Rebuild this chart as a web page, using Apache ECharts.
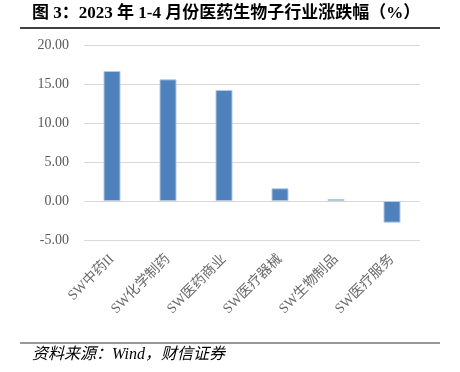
<!DOCTYPE html>
<html>
<head>
<meta charset="utf-8">
<script src="https://cdn.jsdelivr.net/npm/echarts@6/dist/echarts.min.js"></script>
<style>
html,body{margin:0;padding:0;background:#fff;}
#chart{width:460px;height:372px;}
</style>
</head>
<body>
<div id="chart"></div>
<script>
const categories = ['SW中药II', 'SW化学制药', 'SW医药商业', 'SW医疗器械', 'SW生物制品', 'SW医疗服务'];
const values = [16.67, 15.60, 14.23, 1.63, 0.26, -2.78];
const yTicks = { min: -5, max: 20, interval: 5 };
const titleText = '图 3：2023 年 1-4 月份医药生物子行业涨跌幅（%）';
const sourceText = '资料来源：Wind，财信证券';

const serif = '"Liberation Serif", "Times New Roman", "Noto Sans CJK SC", serif';
const chart = echarts.init(document.getElementById('chart'), null, { renderer: 'canvas' });
chart.setOption({
  animation: false,
  backgroundColor: '#fff',
  grid: { left: 84, right: 40, top: 45, bottom: 132, containLabel: false },
  xAxis: {
    type: 'category',
    data: categories,
    position: 'bottom',
    axisLine: { show: false },
    axisTick: { show: false },
    axisLabel: {
      rotate: 45,
      interval: 0,
      margin: 17,
      color: '#6a6a6a',
      fontSize: 14,
      fontFamily: serif
    }
  },
  yAxis: {
    type: 'value',
    min: yTicks.min,
    max: yTicks.max,
    interval: yTicks.interval,
    axisLine: { show: false },
    axisTick: { show: false },
    splitLine: { lineStyle: { color: '#d9d9d9', width: 1 } },
    axisLabel: {
      margin: 15,
      color: '#595959',
      fontSize: 14,
      fontFamily: serif,
      formatter: v => v.toFixed(2)
    }
  },
  series: [{
    type: 'bar',
    data: values,
    barWidth: 17,
    itemStyle: { color: '#4F81BD', borderColor: '#b4c8e2', borderWidth: 1 }
  }],
  graphic: [
    { type: 'text', left: 32, top: 5, style: { text: titleText, font: 'bold 17px ' + serif, fill: '#000' } },
    { type: 'line', shape: { x1: 20, y1: 28, x2: 440, y2: 28 }, style: { stroke: '#000', lineWidth: 1.5 } },
    { type: 'line', shape: { x1: 20, y1: 343, x2: 440, y2: 343 }, style: { stroke: '#333', lineWidth: 1.2 } },
    { type: 'text', left: 32, top: 347, style: { text: sourceText, font: 'italic 16px ' + serif, fill: '#000' } }
  ]
});
</script>
</body>
</html>
